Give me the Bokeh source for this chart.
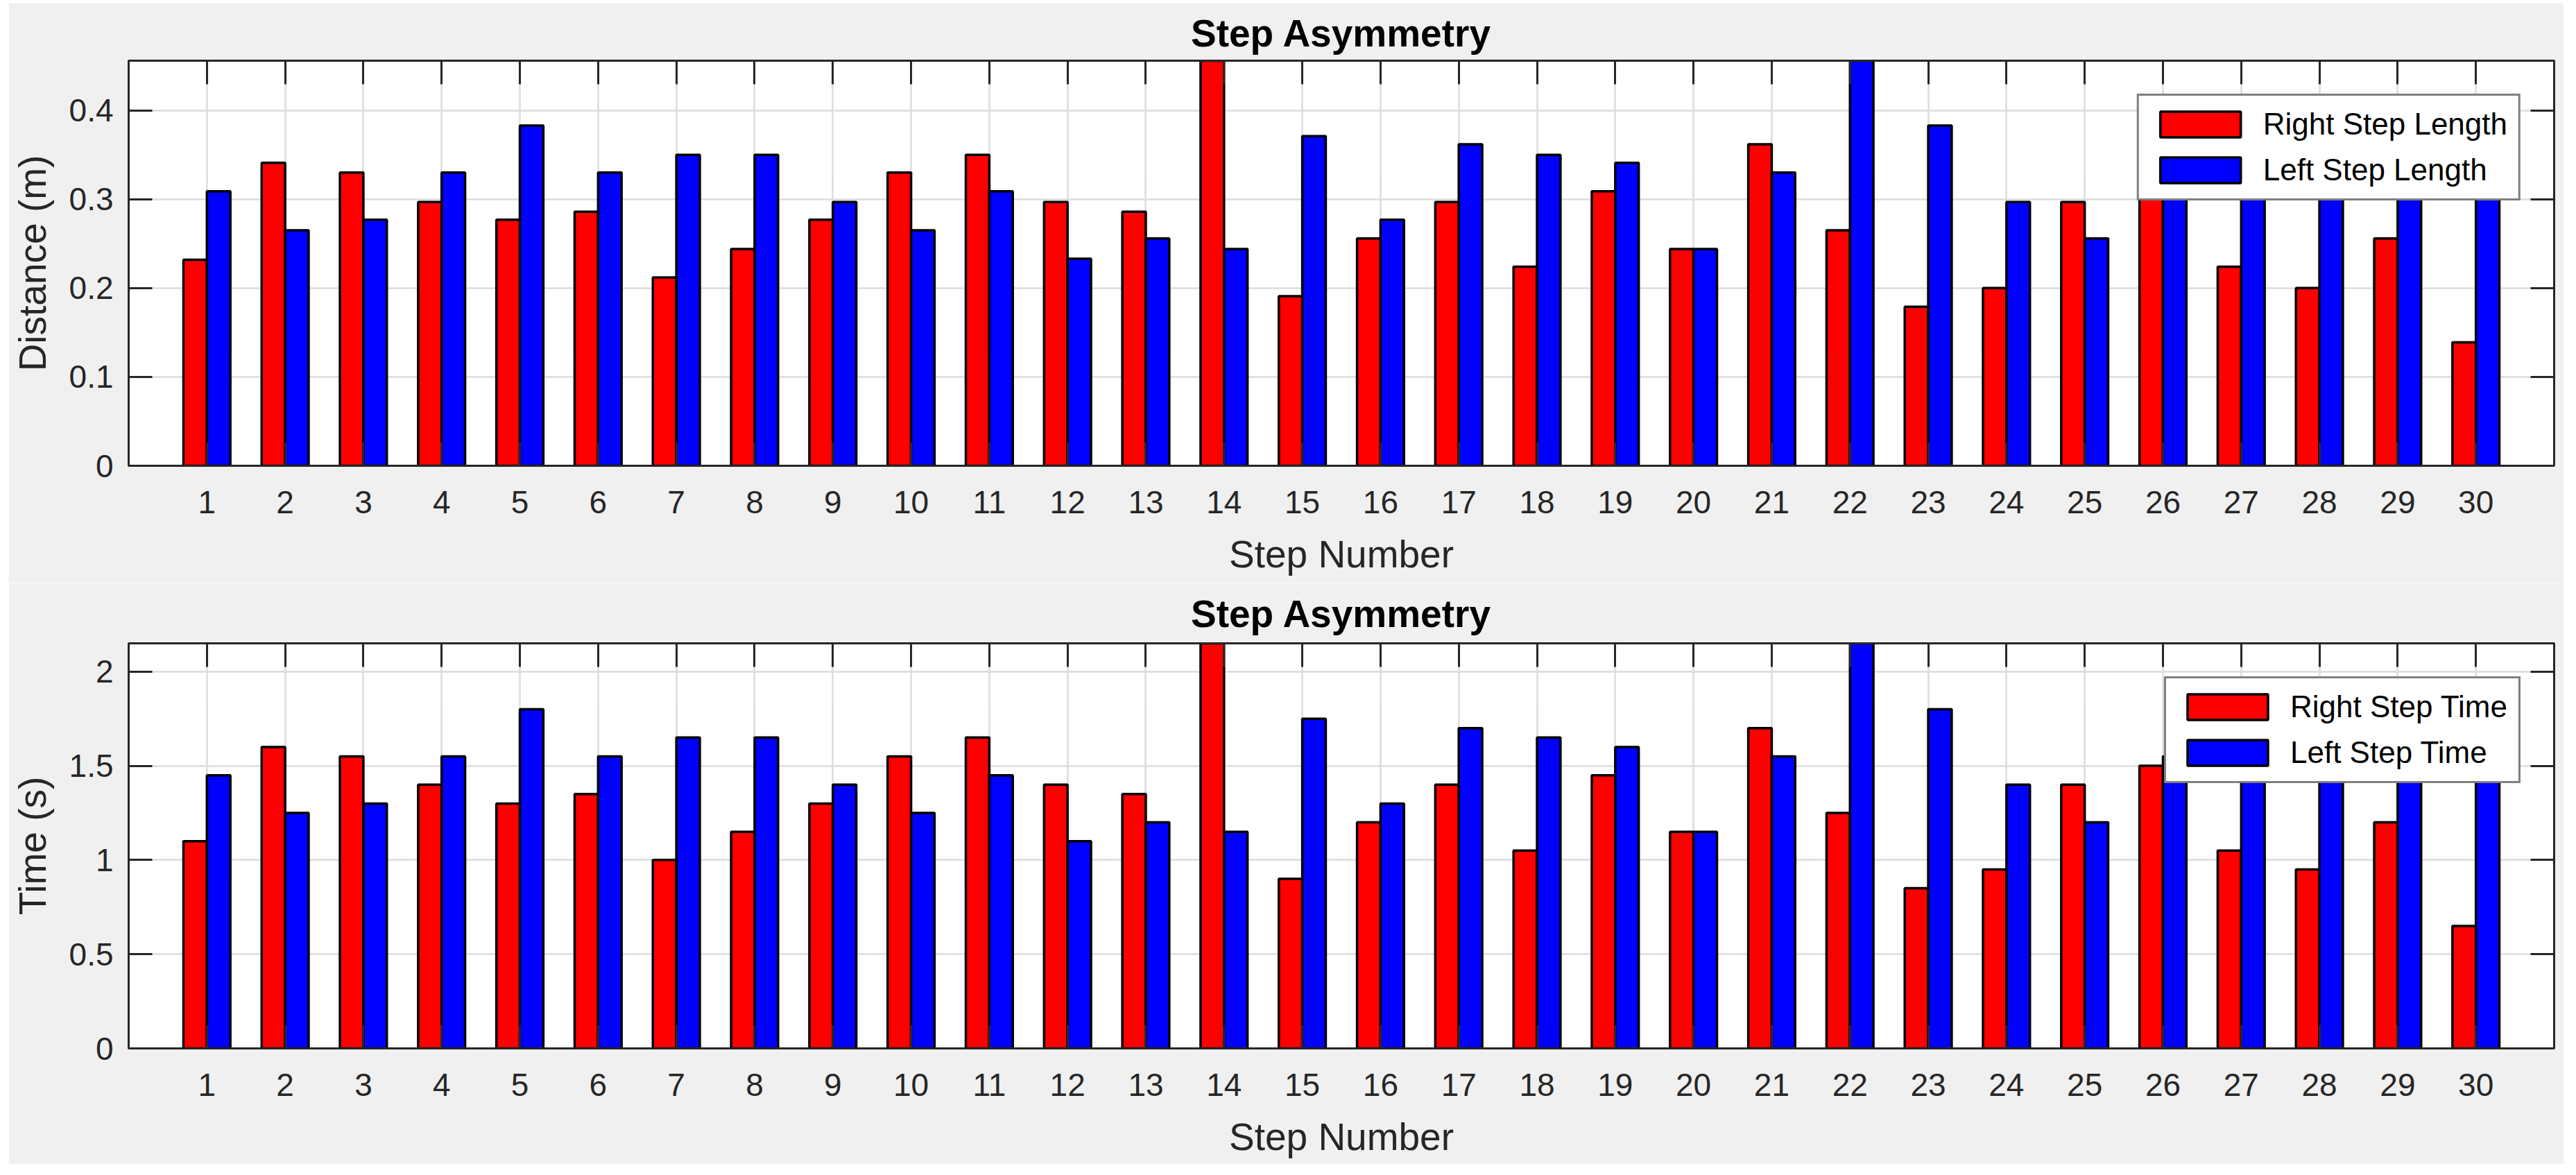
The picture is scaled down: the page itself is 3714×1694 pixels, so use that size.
from bokeh.plotting import figure
from bokeh.models import (ColumnDataSource, Range1d, FixedTicker, LinearAxis, Legend,
                          LegendItem, CustomJSTickFormatter, NumeralTickFormatter)
from bokeh.transform import dodge
from bokeh.layouts import column
from bokeh.embed import file_html
from bokeh.resources import INLINE

# ---------------- data ----------------
steps = list(range(1, 31))
x_tick_labels = [str(s) for s in steps]

right_step_length = [0.232, 0.341, 0.330, 0.297, 0.277, 0.286, 0.212, 0.244, 0.277, 0.330,
                     0.350, 0.297, 0.286, 0.456, 0.191, 0.256, 0.297, 0.224, 0.309, 0.244,
                     0.362, 0.265, 0.179, 0.200, 0.297, 0.319, 0.224, 0.200, 0.256, 0.139]
left_step_length = [0.309, 0.265, 0.277, 0.330, 0.383, 0.330, 0.350, 0.350, 0.297, 0.265,
                    0.309, 0.233, 0.256, 0.244, 0.371, 0.277, 0.362, 0.350, 0.341, 0.244,
                    0.330, 0.456, 0.383, 0.297, 0.256, 0.330, 0.362, 0.373, 0.341, 0.394]

right_step_time = [1.10, 1.60, 1.55, 1.40, 1.30, 1.35, 1.00, 1.15, 1.30, 1.55,
                   1.65, 1.40, 1.35, 2.15, 0.90, 1.20, 1.40, 1.05, 1.45, 1.15,
                   1.70, 1.25, 0.85, 0.95, 1.40, 1.50, 1.05, 0.95, 1.20, 0.65]
left_step_time = [1.45, 1.25, 1.30, 1.55, 1.80, 1.55, 1.65, 1.65, 1.40, 1.25,
                  1.45, 1.10, 1.20, 1.15, 1.75, 1.30, 1.70, 1.65, 1.60, 1.15,
                  1.55, 2.15, 1.80, 1.40, 1.20, 1.55, 1.70, 1.75, 1.60, 1.85]

dist_ticks = [0, 0.1, 0.2, 0.3, 0.4]
dist_tick_labels = ["0", "0.1", "0.2", "0.3", "0.4"]
time_ticks = [0, 0.5, 1, 1.5, 2]
time_tick_labels = ["0", "0.5", "1", "1.5", "2"]

FONT = "Liberation Sans"
AX = "#262626"


def make_panel(right_vals, left_vals, ylabel, yticks, ylabels, ymax, names,
               border_top, border_bottom, title_standoff):
    p = figure(frame_width=3497, frame_height=584,
               x_range=Range1d(0, 31), y_range=Range1d(0, ymax),
               output_backend="svg", toolbar_location=None,
               min_border_left=170, min_border_right=14,
               min_border_top=border_top, min_border_bottom=border_bottom,
               background_fill_color="white", border_fill_color="#f0f0f0",
               outline_line_color=AX, outline_line_width=3)

    src = ColumnDataSource(dict(step=steps, right=right_vals, left=left_vals))
    r1 = p.vbar(x=dodge("step", -0.15, range=p.x_range), top="right", width=0.3,
                source=src, fill_color="#ff0000", line_color="black", line_width=3.5)
    r2 = p.vbar(x=dodge("step", 0.15, range=p.x_range), top="left", width=0.3,
                source=src, fill_color="#0000ff", line_color="black", line_width=3.5)

    xt = FixedTicker(ticks=steps)
    yt = FixedTicker(ticks=yticks)

    # title
    p.title.text = "Step Asymmetry"
    p.title.align = "center"
    p.title.text_font = FONT
    p.title.text_font_size = "55px"
    p.title.text_font_style = "bold"
    p.title.text_color = "black"
    p.title.standoff = title_standoff

    # main axes
    xa = p.xaxis[0]
    xa.ticker = xt
    xa.major_label_overrides = {s: l for s, l in zip(steps, x_tick_labels)}
    xa.axis_label = "Step Number"
    ya = p.yaxis[0]
    ya.ticker = yt
    ya.formatter = NumeralTickFormatter(format="0.[0]")
    ya.major_label_overrides = {t: l for t, l in zip(yticks, ylabels)}
    ya.axis_label = ylabel

    for a in (xa, ya):
        a.major_tick_in = 34
        a.major_tick_out = 0
        a.minor_tick_line_color = None
        a.axis_line_color = AX
        a.axis_line_width = 3
        a.major_tick_line_color = AX
        a.major_tick_line_width = 3
        a.major_label_text_font = FONT
        a.major_label_text_font_size = "46px"
        a.major_label_text_color = AX
        a.axis_label_text_font = FONT
        a.axis_label_text_font_size = "55px"
        a.axis_label_text_font_style = "normal"
        a.axis_label_text_color = AX
    xa.major_label_standoff = 36
    xa.axis_label_standoff = 25
    ya.major_label_standoff = 22
    ya.axis_label_standoff = 19

    # top / right box axes with ticks only
    blank = CustomJSTickFormatter(code="return ''")
    top = LinearAxis(ticker=xt, formatter=blank)
    right = LinearAxis(ticker=yt, formatter=blank)
    for a in (top, right):
        a.major_tick_in = 34
        a.major_tick_out = 0
        a.minor_tick_line_color = None
        a.axis_line_color = AX
        a.axis_line_width = 3
        a.major_tick_line_color = AX
        a.major_tick_line_width = 3
        a.major_label_text_font_size = "1px"
        a.major_label_standoff = 0
    p.add_layout(top, "above")
    p.add_layout(right, "right")

    # grid
    p.xgrid.ticker = xt
    p.ygrid.ticker = yt
    for g in (p.xgrid, p.ygrid):
        g.grid_line_color = "#dcdcdc"
        g.grid_line_width = 2.5

    legend = Legend(items=[LegendItem(label=names[0], renderers=[r1]),
                           LegendItem(label=names[1], renderers=[r2])],
                    location="top_right", margin=48,
                    glyph_width=145, glyph_height=46, label_height=46,
                    label_standoff=18, spacing=16, padding=16,
                    label_text_font=FONT, label_text_font_size="44px",
                    label_text_color="black",
                    border_line_color="black", border_line_width=3,
                    background_fill_color="white", background_fill_alpha=1.0)
    p.add_layout(legend)
    return p


p1 = make_panel(right_step_length, left_step_length, "Distance (m)", dist_ticks,
                dist_tick_labels, 0.456, ["Right Step Length", "Left Step Length"],
                83, 169, 18)
p2 = make_panel(right_step_time, left_step_time, "Time (s)", time_ticks,
                time_tick_labels, 2.15, ["Right Step Time", "Left Step Time"],
                87, 167, 23)

layout = column(p1, p2, spacing=0, margin=(4, 21, 16, 12))
open("out.html", "w").write(file_html(layout, INLINE))
